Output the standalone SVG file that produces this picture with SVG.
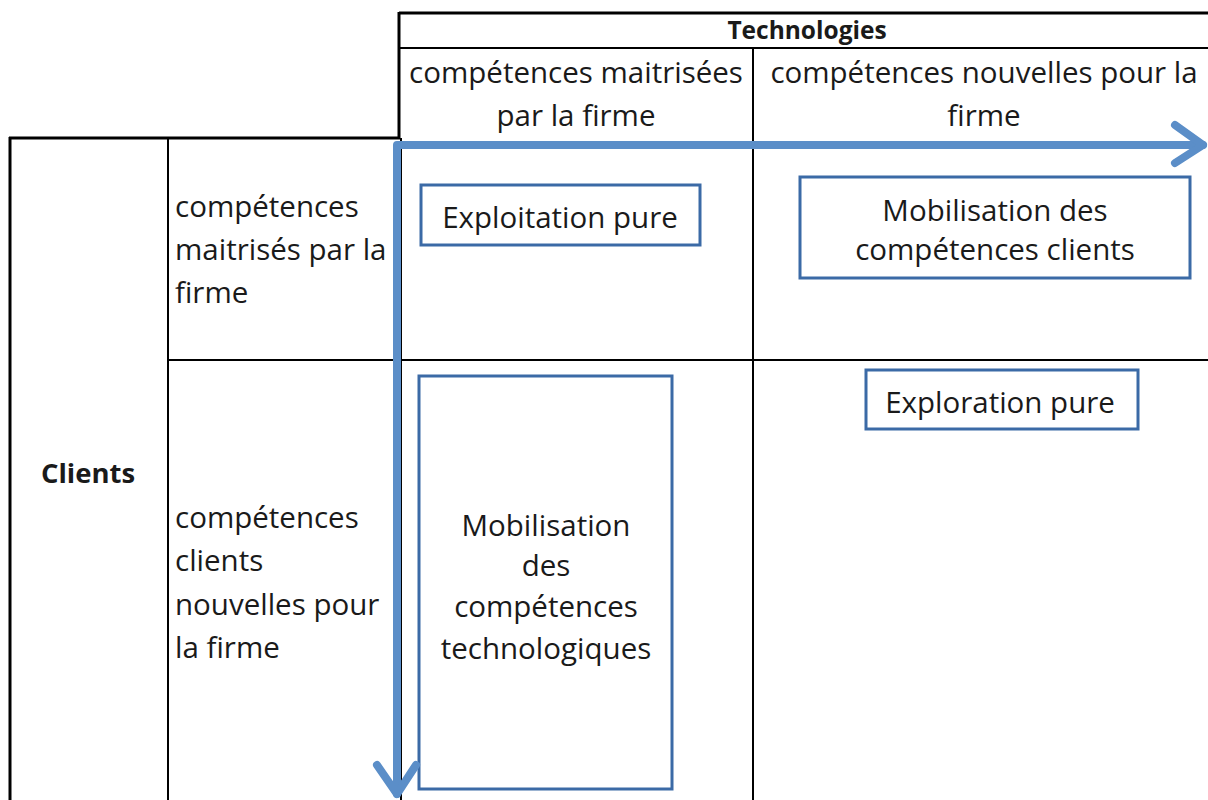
<svg xmlns="http://www.w3.org/2000/svg" width="1208" height="800" viewBox="0 0 1208 800">
<style>
.t{font-family:"Open Sans","Liberation Sans",sans-serif;font-size:29.5px;fill:#1a1a1a}
.c{text-anchor:middle}
.b{font-weight:bold}
.grid{stroke:#000;fill:none}
.box{fill:#fff;stroke:#3b6aa6;stroke-width:3}
.arr{stroke:#5b8ec8;stroke-width:8;fill:none;stroke-linecap:round;stroke-linejoin:round}
</style>
<rect width="1208" height="800" fill="#fff"/>
<g id="grid" class="grid">
<line x1="399" y1="13" x2="1208" y2="13" stroke-width="3"/>
<line x1="399" y1="12" x2="399" y2="138" stroke-width="3"/>
<line x1="400" y1="48" x2="1208" y2="48" stroke-width="2"/>
<line x1="753" y1="48" x2="753" y2="800" stroke-width="2"/>
<line x1="9" y1="138" x2="400" y2="138" stroke-width="3"/>
<line x1="10" y1="137" x2="10" y2="800" stroke-width="3"/>
<line x1="168" y1="138" x2="168" y2="800" stroke-width="2"/>
<line x1="401" y1="138" x2="401" y2="800" stroke-width="2"/>
<line x1="168" y1="360" x2="1208" y2="360" stroke-width="2"/>
</g>
<g id="headers">
<text class="t c b" x="807" y="39" style="font-size:24.5px">Technologies</text>
<text class="t c" x="576" y="83">compétences maitrisées</text>
<text class="t c" x="576" y="126">par la firme</text>
<text class="t c" x="984" y="83">compétences nouvelles pour la</text>
<text class="t c" x="984" y="126">firme</text>
<text class="t c b" x="88" y="483" style="font-size:27.5px">Clients</text>
<text class="t" x="175" y="217">compétences</text>
<text class="t" x="175" y="260">maitrisés par la</text>
<text class="t" x="175" y="303">firme</text>
<text class="t" x="175" y="528">compétences</text>
<text class="t" x="175" y="571">clients</text>
<text class="t" x="175" y="615">nouvelles pour</text>
<text class="t" x="175" y="658">la firme</text>
</g>
<g id="exploitation">
<rect class="box" x="421" y="185" width="279" height="60"/>
<text class="t c" x="560" y="228">Exploitation pure</text>
</g>
<g id="mobilisation-clients">
<rect class="box" x="800" y="177" width="390" height="101"/>
<text class="t c" x="995" y="221">Mobilisation des</text>
<text class="t c" x="995" y="260">compétences clients</text>
</g>
<g id="exploration">
<rect class="box" x="866" y="370" width="272" height="59"/>
<text class="t c" x="1000" y="413">Exploration pure</text>
</g>
<g id="mobilisation-techno">
<rect class="box" x="419" y="376" width="253" height="413"/>
<text class="t c" x="546" y="536">Mobilisation</text>
<text class="t c" x="546" y="576">des</text>
<text class="t c" x="546" y="617">compétences</text>
<text class="t c" x="546" y="659">technologiques</text>
</g>
<g id="connectors">
<path class="arr" d="M397,794 V145 H1203"/>
<path class="arr" d="M1175,125 L1203,145 L1175,163"/>
<path class="arr" d="M377,765 L397,794 L416,765"/>
</g>
</svg>
